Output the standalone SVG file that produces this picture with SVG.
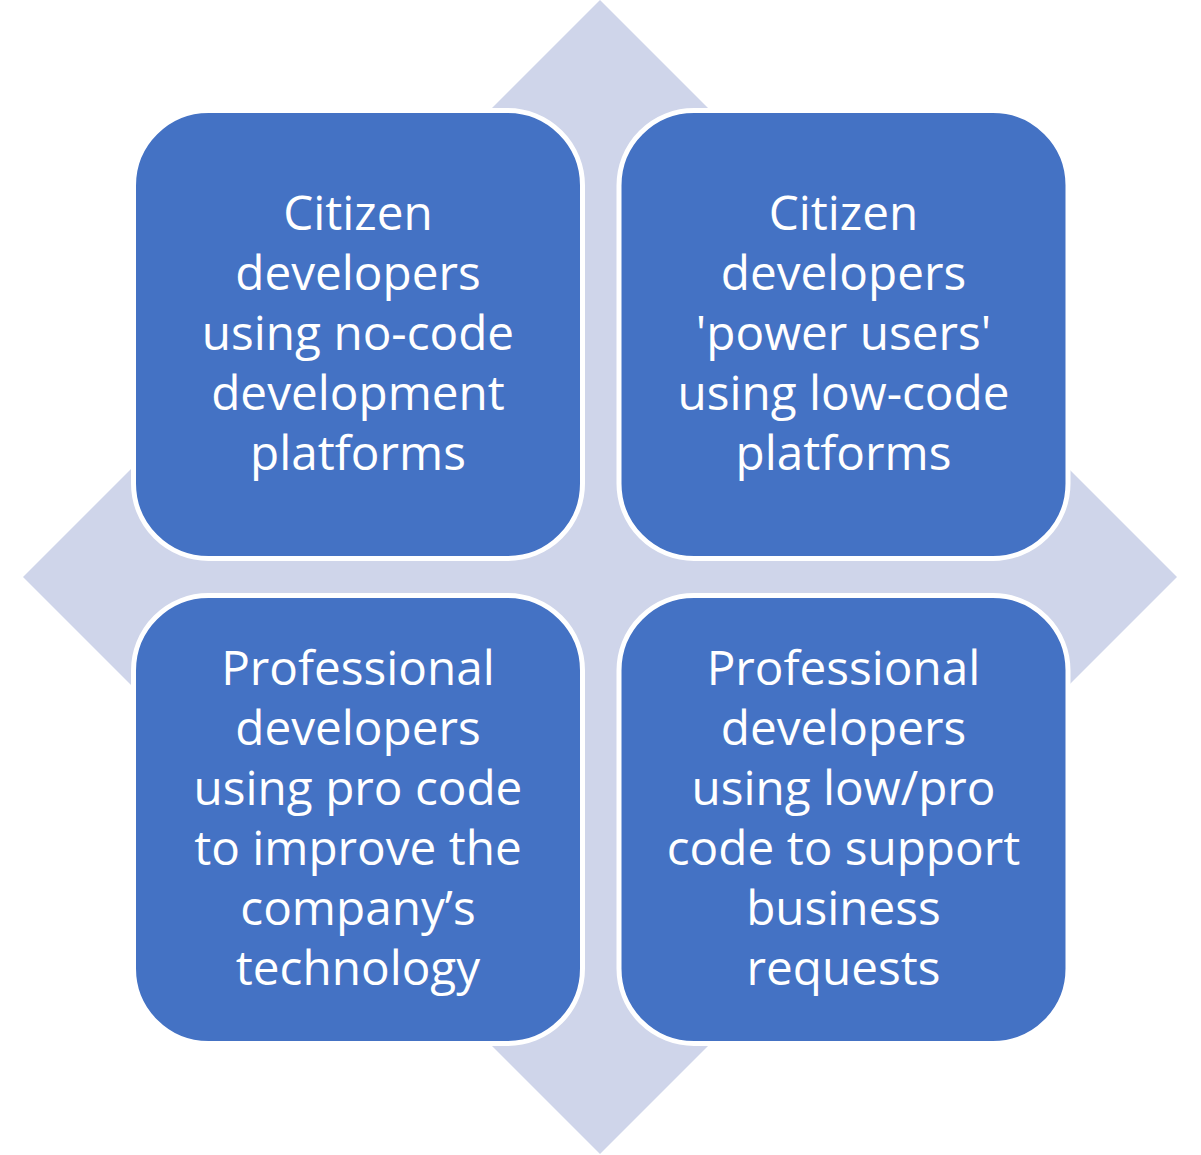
<svg xmlns="http://www.w3.org/2000/svg" width="1201" height="1155" viewBox="0 0 1201 1155">
<style>
.box{fill:#4472C4;stroke:#FFFFFF;stroke-width:5}
.lbl{font-family:"Open Sans","Noto Sans",sans-serif;font-size:47.7px;fill:#FFFFFF;text-anchor:middle}
</style>
<rect width="1201" height="1155" fill="#FFFFFF"/>
<g id="background">
<polygon points="600,0 1177,577 600,1154 23,577" fill="#CFD5EA"/>
</g>
<g id="connectors"></g>
<g id="node-tl">
<rect class="box" x="133.5" y="110.5" width="449" height="448" rx="75" ry="75"/>
<text class="lbl"><tspan x="358" y="230">Citizen</tspan><tspan x="358" y="290">developers</tspan><tspan x="358" y="350">using no-code</tspan><tspan x="358" y="410">development</tspan><tspan x="358" y="470">platforms</tspan></text>
</g>
<g id="node-tr">
<rect class="box" x="619" y="110.5" width="449" height="448" rx="75" ry="75"/>
<text class="lbl"><tspan x="843.5" y="230">Citizen</tspan><tspan x="843.5" y="290">developers</tspan><tspan x="843.5" y="350">'power users'</tspan><tspan x="843.5" y="410">using low-code</tspan><tspan x="843.5" y="470">platforms</tspan></text>
</g>
<g id="node-bl">
<rect class="box" x="133.5" y="595.5" width="449" height="448" rx="75" ry="75"/>
<text class="lbl"><tspan x="358" y="685">Professional</tspan><tspan x="358" y="745">developers</tspan><tspan x="358" y="805">using pro code</tspan><tspan x="358" y="865">to improve the</tspan><tspan x="358" y="925">company’s</tspan><tspan x="358" y="985">technology</tspan></text>
</g>
<g id="node-br">
<rect class="box" x="619" y="595.5" width="449" height="448" rx="75" ry="75"/>
<text class="lbl"><tspan x="843.5" y="685">Professional</tspan><tspan x="843.5" y="745">developers</tspan><tspan x="843.5" y="805">using low/pro</tspan><tspan x="843.5" y="865">code to support</tspan><tspan x="843.5" y="925">business</tspan><tspan x="843.5" y="985">requests</tspan></text>
</g>
</svg>
